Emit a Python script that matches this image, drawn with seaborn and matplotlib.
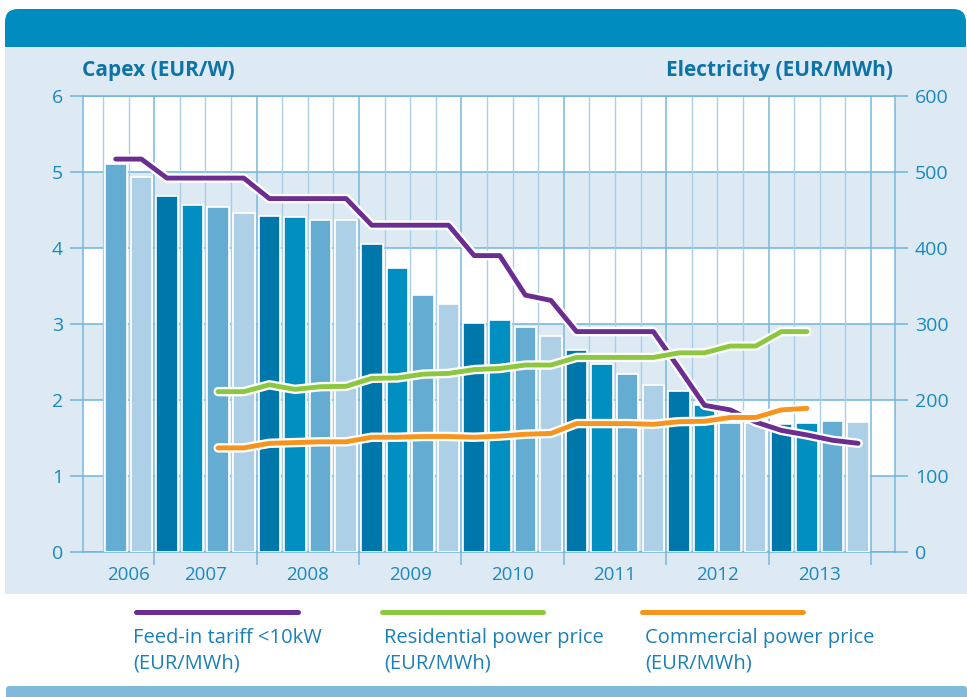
import numpy as np
import pandas as pd
import matplotlib
matplotlib.use("Agg")
import matplotlib.pyplot as plt
import matplotlib.patheffects as pe
from matplotlib.patches import Rectangle, FancyBboxPatch
from matplotlib.lines import Line2D
import seaborn as sns

# ---------------- data ----------------
quarters = ["2006Q3", "2006Q4",
            "2007Q1", "2007Q2", "2007Q3", "2007Q4",
            "2008Q1", "2008Q2", "2008Q3", "2008Q4",
            "2009Q1", "2009Q2", "2009Q3", "2009Q4",
            "2010Q1", "2010Q2", "2010Q3", "2010Q4",
            "2011Q1", "2011Q2", "2011Q3", "2011Q4",
            "2012Q1", "2012Q2", "2012Q3", "2012Q4",
            "2013Q1", "2013Q2", "2013Q3", "2013Q4"]
years = ["2006", "2007", "2008", "2009", "2010", "2011", "2012", "2013"]

capex = [5.11, 4.93,
         4.68, 4.57, 4.54, 4.46,
         4.42, 4.41, 4.37, 4.37,
         4.05, 3.74, 3.38, 3.26,
         3.01, 3.05, 2.96, 2.84,
         2.66, 2.48, 2.34, 2.20,
         2.12, 1.93, 1.70, 1.70,
         1.68, 1.70, 1.72, 1.71]

feed_in = [517, 517,
           492, 492, 492, 492,
           465, 465, 465, 465,
           430, 430, 430, 430,
           390, 390, 338, 331,
           290, 290, 290, 290,
           242, 193, 187, 171,
           160, 154, 147, 143]

residential = [np.nan, np.nan,
               np.nan, np.nan, 211, 211,
               220, 214, 217.5, 218,
               228.5, 229, 234, 235,
               240, 241.5, 246, 246,
               256, 256, 256, 256,
               262, 262, 271, 271,
               290, 290, np.nan, np.nan]

commercial = [np.nan, np.nan,
              np.nan, np.nan, 137, 137,
              143, 144, 145, 145,
              151, 151, 152, 152,
              151, 152.5, 155, 156,
              169, 169, 169, 168,
              171.5, 172, 177, 177,
              187, 189, np.nan, np.nan]

series_names = ["Feed-in tariff <10kW", "Residential power price", "Commercial power price"]
unit_label = "(EUR/MWh)"

# ---------------- styles ----------------
bar_colors = ["#0077AA", "#008FC0", "#64ACD1", "#AED0E6"]
line_colors = ["#6B2D90", "#8DC63F", "#F7941D"]
tick_color = "#1B88BF"
title_color = "#0E73A8"
legend_text_color = "#1B80B9"
hgrid = "#6FB4DB"
qgrid = "#A8CFE7"
ygrid = "#79B8DD"
panel = "#DDEAF4"
header = "#008CBF"
bottom_bar = "#80B9DA"

W, H = 967, 697
plt.rcParams["font.family"] = ["Open Sans", "DejaVu Sans"]

fig = plt.figure(figsize=(W / 100, H / 100), dpi=100, facecolor="white")

def inch(xpx, ypx):
    return xpx / 100, (H - ypx) / 100

# decorations (behind the axes)
x0, y0 = inch(5, 60)
fig.add_artist(FancyBboxPatch((x0, y0), (966 - 5) / 100, (60 - 9) / 100,
                              boxstyle="round,pad=0,rounding_size=0.13",
                              transform=fig.dpi_scale_trans, facecolor=header,
                              edgecolor="none", zorder=-3))
x0, y0 = inch(5, 594)
fig.add_artist(Rectangle((x0, y0), (967 - 5) / 100, (594 - 46.7) / 100,
                         transform=fig.dpi_scale_trans, facecolor=panel,
                         edgecolor="none", zorder=-2))
x0, y0 = inch(6, 700)
fig.add_artist(FancyBboxPatch((x0, y0), (967 - 6) / 100, (700 - 686) / 100,
                              boxstyle="round,pad=0,rounding_size=0.03",
                              transform=fig.dpi_scale_trans, facecolor=bottom_bar,
                              edgecolor="none", zorder=-2))

# axes
ax = fig.add_axes([83 / W, 1 - 552 / H, (895 - 83) / W, (552 - 96) / H])
ax.set_facecolor(panel)
for lo in (1, 3, 5):
    ax.axhspan(lo, lo + 1, color="white", zorder=0.2, lw=0)

df = pd.DataFrame({"quarter": quarters, "capex": capex,
                   "qtr": [q[-2:] for q in quarters]})
sns.barplot(data=df, x="quarter", y="capex", hue="qtr",
            hue_order=["Q1", "Q2", "Q3", "Q4"], palette=bar_colors,
            dodge=False, width=0.84, saturation=1, errorbar=None,
            edgecolor="white", linewidth=1.2, legend=False, ax=ax, zorder=3)

n = len(quarters)
ax.set_xlim(-1.28, n + 0.44)
ax.set_ylim(0, 6)
ax.set_yticks(range(0, 7))
ax.grid(axis="y", color=hgrid, lw=1.1, zorder=0.5)
ax.grid(axis="x", visible=False)
ax.set_axisbelow(True)

# vertical quarter / year lines
for i, q in enumerate(quarters):
    ax.axvline(i - 0.5, color=ygrid if q.endswith("Q1") else qgrid,
               lw=1.1 if q.endswith("Q1") else 1.0, zorder=0.6)
ax.axvline(n - 0.5, color=ygrid, lw=1.1, zorder=0.6)

# year ticks
year_idx = {y: [i for i, q in enumerate(quarters) if q.startswith(y)] for y in years}
xl = ax.get_xlim()
centers = [(max(min(v) - 0.5, xl[0]) + max(v) + 0.5) / 2 for v in year_idx.values()]
bounds = [i - 0.5 for i, q in enumerate(quarters) if q.endswith("Q1")] + [n - 0.5]
ax.set_xticks(centers, labels=years)
ax.set_xticks(bounds, minor=True)
ax.tick_params(axis="x", which="major", length=0, pad=10, labelsize=13.5,
               labelcolor=tick_color)
ax.tick_params(axis="x", which="minor", length=9.4, width=1.1, color=ygrid)
ax.tick_params(axis="y", length=9.4, width=1.1, color=hgrid, labelsize=14,
               labelcolor=tick_color, pad=5)
ax.set_xlabel("")
ax.set_ylabel("")
for s in ("left", "right"):
    ax.spines[s].set_color(ygrid)
    ax.spines[s].set_linewidth(1.1)
for s in ("top", "bottom"):
    ax.spines[s].set_color(hgrid)
    ax.spines[s].set_linewidth(1.1)

# electricity lines
ax2 = ax.twinx()
ax2.set_ylim(0, 600)
ax2.set_yticks(range(0, 700, 100))
pos = np.arange(n)
for vals, c in zip([feed_in, residential, commercial], line_colors):
    sns.lineplot(x=pos, y=vals, ax=ax2, color=c, lw=3.5, sort=False)
    ln = ax2.lines[-1]
    ln.set_solid_capstyle("round")
    ln.set_solid_joinstyle("round")
    ln.set_path_effects([pe.Stroke(linewidth=6.8, foreground="white"), pe.Normal()])
ax2.set_ylabel("")
for s in ax2.spines.values():
    s.set_visible(False)
ax2.tick_params(axis="y", length=9.4, width=1.1, color=hgrid, labelsize=14,
                labelcolor=tick_color, pad=5)
ax.set_xlim(xl)

# axis titles
fig.text(82 / W, 1 - 76 / H, "Capex (EUR/W)", fontsize=15, fontweight="bold",
         color=title_color, va="baseline", ha="left")
fig.text(893 / W, 1 - 76 / H, "Electricity (EUR/MWh)", fontsize=15,
         fontweight="bold", color=title_color, va="baseline", ha="right")

# legend
leg_x = [(136, 298), (382, 543), (642, 803)]
text_x = [133, 384, 645]
for (a, b), tx, c, name in zip(leg_x, text_x, line_colors, series_names):
    xa, ya = inch(a, 611.7)
    xb, _ = inch(b, 611.7)
    fig.add_artist(Line2D([xa, xb], [ya, ya], transform=fig.dpi_scale_trans,
                          color=c, lw=3.6, solid_capstyle="round"))
    fig.text(tx / W, 1 - 643 / H, name, fontsize=14.5, color=legend_text_color,
             va="baseline", ha="left")
    fig.text(tx / W, 1 - 669 / H, unit_label, fontsize=14.5, color=legend_text_color,
             va="baseline", ha="left")

fig.savefig("out.png", dpi=100, facecolor="white")
